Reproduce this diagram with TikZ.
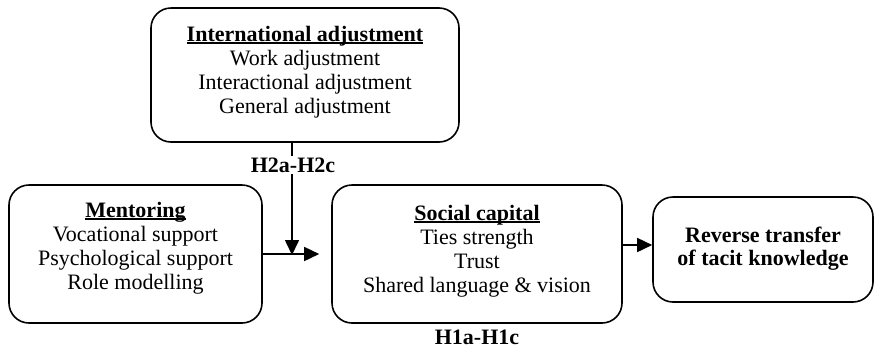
\documentclass[tikz,border=0pt]{standalone}
\usepackage{fontspec}
\setmainfont{Liberation Serif}
\usetikzlibrary{arrows.meta}

% heading underline: a thick rule close under the baseline, without extra depth
\newcommand\headul[1]{\setbox0\hbox{#1}\rlap{\rule[-2.6pt]{\wd0}{1.5pt}}\box0}

\begin{document}
\begin{tikzpicture}[x=1pt,y=-1pt,
  box/.style={draw,line width=1.6pt,rounded corners=20pt,inner sep=0pt},
  txt/.style={align=center,inner sep=0pt,font=\fontsize{22}{24}\selectfont},
  lbl/.style={inner sep=2pt,font=\fontsize{22}{24}\selectfont\bfseries},
  arr/.style={line width=1.6pt,-{Triangle[length=15pt,width=14pt]}}]
  \useasboundingbox (0,0) rectangle (874,349);

  % boxes
  \node[box,minimum width=308pt,minimum height=134pt] (intl)    at (305,75)    {};
  \node[box,minimum width=253pt,minimum height=138pt] (mentor)  at (135.5,254) {};
  \node[box,minimum width=290pt,minimum height=138pt] (social)  at (477,254)   {};
  \node[box,minimum width=220pt,minimum height=105pt] (reverse) at (763,249.5) {};

  % box contents
  \node[txt] (intl-t) at (305,72) {\textbf{\headul{International adjustment}}\\
    Work adjustment\\ Interactional adjustment\\ General adjustment};
  \node[txt] (mentor-t) at (135.5,248) {\textbf{\headul{Mentoring}}\\
    Vocational support\\ Psychological support\\ Role modelling};
  \node[txt] (social-t) at (477,251) {\textbf{\headul{Social capital}}\\
    Ties strength\\ Trust\\ Shared language \& vision};
  \node[txt,font=\fontsize{22}{23.5}\selectfont\bfseries] (reverse-t) at (763,248.5)
    {Reverse transfer\\ of tacit knowledge};

  % connectors
  \coordinate (meet) at (292,254);
  \coordinate (lvl) at (0,245);
  \draw[arr] (mentor.east |- meet) -- ([xshift=-12pt]social.west |- meet);
  \draw[arr] (intl.south -| meet) -- ([yshift=-1pt]meet);
  \draw[arr] (social.east |- lvl) -- (reverse.west |- lvl);

  % hypothesis labels
  \node[lbl,fill=white] (h2) at (293,165) {H2a-H2c};
  \node[lbl] (h1) at (477,337) {H1a-H1c};
\end{tikzpicture}
\end{document}
